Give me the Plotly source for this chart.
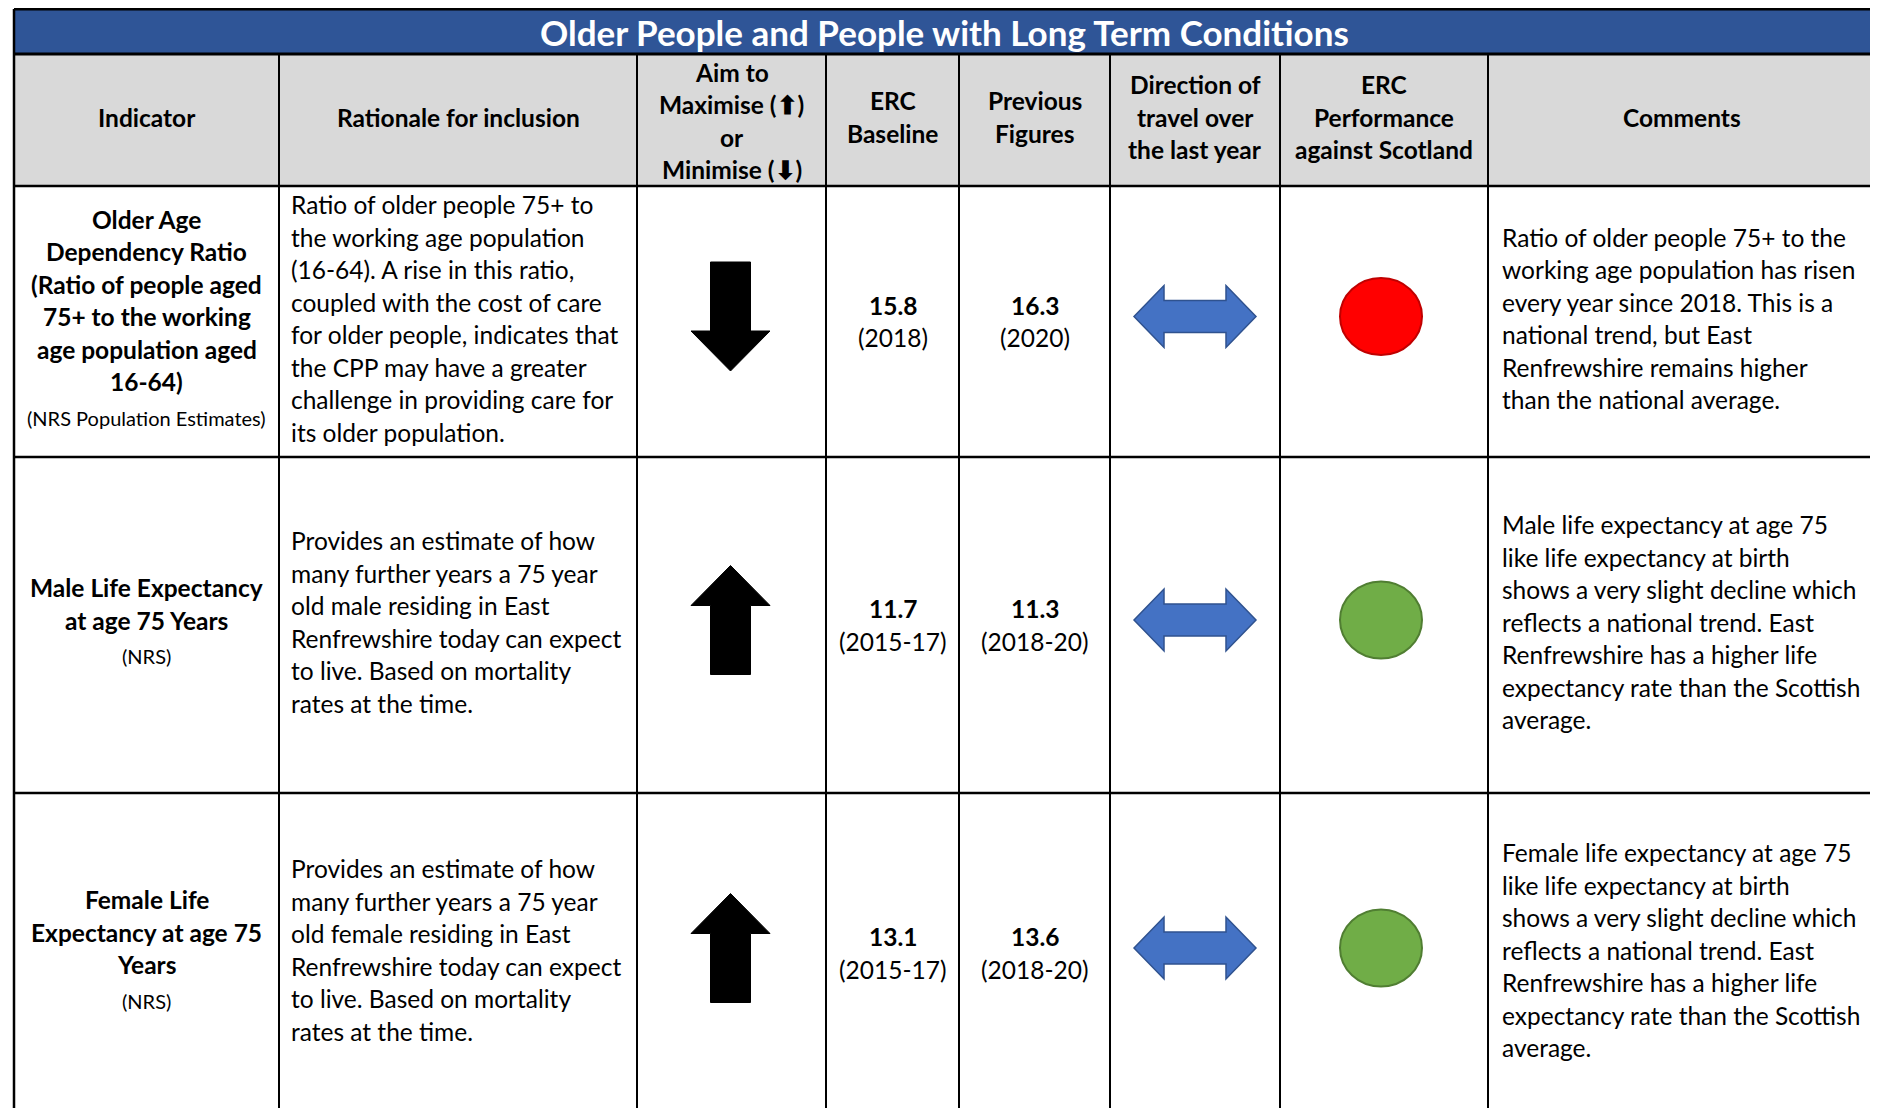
import plotly.graph_objects as go

# ---------------- data ----------------
title = "Older People and People with Long Term Conditions"
headers = [
    ["Indicator"],
    ["Rationale for inclusion"],
    ["Aim to", "Maximise (⬆)", "or", "Minimise (⬇)"],
    ["ERC", "Baseline"],
    ["Previous", "Figures"],
    ["Direction of", "travel over", "the last year"],
    ["ERC", "Performance", "against Scotland"],
    ["Comments"],
]
indicators = [
    ["Older Age", "Dependency Ratio", "(Ratio of people aged", "75+ to the working", "age population aged", "16-64)"],
    ["Male Life Expectancy", "at age 75 Years"],
    ["Female Life", "Expectancy at age 75", "Years"],
]
sources = ["(NRS Population Estimates)", "(NRS)", "(NRS)"]
rationale = [
    ["Ratio of older people 75+ to", "the working age population", "(16-64). A rise in this ratio,",
     "coupled with the cost of care", "for older people, indicates that", "the CPP may have a greater",
     "challenge in providing care for", "its older population."],
    ["Provides an estimate of how", "many further years a 75 year", "old male residing in East",
     "Renfrewshire today can expect", "to live. Based on mortality", "rates at the time."],
    ["Provides an estimate of how", "many further years a 75 year", "old female residing in East",
     "Renfrewshire today can expect", "to live. Based on mortality", "rates at the time."],
]
aim = ["down", "up", "up"]
baseline_value = ["15.8", "11.7", "13.1"]
baseline_period = ["(2018)", "(2015-17)", "(2015-17)"]
previous_value = ["16.3", "11.3", "13.6"]
previous_period = ["(2020)", "(2018-20)", "(2018-20)"]
travel = ["same", "same", "same"]
performance = ["red", "green", "green"]
comments = [
    ["Ratio of older people 75+ to the", "working age population has risen", "every year since 2018. This is a",
     "national trend, but East", "Renfrewshire remains higher", "than the national average."],
    ["Male life expectancy at age 75", "like life expectancy at birth", "shows a very slight decline which",
     "reflects a national trend. East", "Renfrewshire has a higher life", "expectancy rate than the Scottish",
     "average."],
    ["Female life expectancy at age 75", "like life expectancy at birth", "shows a very slight decline which",
     "reflects a national trend. East", "Renfrewshire has a higher life", "expectancy rate than the Scottish",
     "average."],
]

# ---------------- layout constants ----------------
W, H = 1878, 1108
OFF = 8  # page body margin
FONT = "Lato"
col_x = [14, 279, 637, 826, 959, 1110, 1280, 1488, 1875]
title_top, title_bot = 9, 54
row_y = [186, 457, 793, 1113]
LH = 32.5
BODY = 24.5
SMALL = 20
TITLE = 35
perf_fill = {"red": "#FF0000", "green": "#70AD47"}
perf_line = {"red": "#C00000", "green": "#507E32"}

shapes = []
annotations = []


def text(x, y, s, size=BODY, bold=False, anchor="center", color="black"):
    annotations.append(dict(
        x=x, y=y, xref="x", yref="y", text=("<b>%s</b>" % s) if bold else s,
        showarrow=False, xanchor=anchor, yanchor="middle",
        font=dict(family=FONT, size=size, color=color)))


def block(x, cy, lines, bold=False, anchor="center", size=BODY):
    n = len(lines)
    y0 = cy - (n - 1) * LH / 2
    for i, s in enumerate(lines):
        text(x, y0 + i * LH, s, size=size, bold=bold, anchor=anchor)


# backgrounds
shapes.append(dict(type="rect", x0=col_x[0], x1=col_x[-1], y0=title_top, y1=title_bot,
                   fillcolor="#2F5597", line=dict(width=0), layer="below"))
shapes.append(dict(type="rect", x0=col_x[0], x1=col_x[-1], y0=title_bot, y1=row_y[0],
                   fillcolor="#D9D9D9", line=dict(width=0), layer="below"))

# title
text((col_x[0] + col_x[-1]) / 2, 32, title, size=TITLE, bold=True, color="white")

# headers
for j, h in enumerate(headers):
    cx = (col_x[j] + col_x[j + 1]) / 2
    cy = (title_bot + row_y[0]) / 2 - 3
    if len(h) == 4:
        cy += 4
    block(cx, cy, h, bold=True)

# rows
for i in range(3):
    top = row_y[i]
    bot = row_y[i + 1]
    mid = (top + bot) / 2 - 3
    smid = (top + bot) / 2 - 5
    # indicator (bold lines + small source)
    lines = indicators[i]
    n = len(lines)
    total = (n - 1) * LH + 36
    y0 = mid - total / 2
    cx0 = (col_x[0] + col_x[1]) / 2
    for k, s in enumerate(lines):
        text(cx0, y0 + k * LH, s, bold=True)
    text(cx0, y0 + (n - 1) * LH + 36, sources[i], size=SMALL)
    # rationale
    block(col_x[1] + 10, mid, rationale[i], anchor="left")
    # aim arrow
    ax = (col_x[2] + col_x[3]) / 2 - 1
    hw, sw, hl, L = 39.5, 20, 40, 109
    t = smid - L / 2
    b = smid + L / 2
    if aim[i] == "up":
        pts = [(ax, t), (ax + hw, t + hl), (ax + sw, t + hl), (ax + sw, b), (ax - sw, b),
               (ax - sw, t + hl), (ax - hw, t + hl)]
    else:
        pts = [(ax, b), (ax + hw, b - hl), (ax + sw, b - hl), (ax + sw, t), (ax - sw, t),
               (ax - sw, b - hl), (ax - hw, b - hl)]
    path = "M " + " L ".join("%.1f,%.1f" % p for p in pts) + " Z"
    shapes.append(dict(type="path", path=path, fillcolor="black", line=dict(color="black", width=1)))
    # baseline & previous
    vmid = mid + 3
    bx = (col_x[3] + col_x[4]) / 2
    text(bx, vmid - LH / 2, baseline_value[i], bold=True)
    text(bx, vmid + LH / 2, baseline_period[i])
    px = (col_x[4] + col_x[5]) / 2
    text(px, vmid - LH / 2, previous_value[i], bold=True)
    text(px, vmid + LH / 2, previous_period[i])
    # direction of travel
    dx = (col_x[5] + col_x[6]) / 2
    if travel[i] == "same":
        pts = [(dx - 61, smid), (dx - 31, smid - 31), (dx - 31, smid - 16), (dx + 31, smid - 16),
               (dx + 31, smid - 31), (dx + 61, smid), (dx + 31, smid + 31), (dx + 31, smid + 16),
               (dx - 31, smid + 16), (dx - 31, smid + 31)]
        path = "M " + " L ".join("%.1f,%.1f" % p for p in pts) + " Z"
        shapes.append(dict(type="path", path=path, fillcolor="#4472C4",
                           line=dict(color="#2F528F", width=1.5)))
    # performance circle
    ccx = (col_x[6] + col_x[7]) / 2 - 3
    shapes.append(dict(type="circle", x0=ccx - 41, x1=ccx + 41, y0=smid - 38.5, y1=smid + 38.5,
                       fillcolor=perf_fill[performance[i]],
                       line=dict(color=perf_line[performance[i]], width=2)))
    # comments
    block(col_x[7] + 12, mid, comments[i], anchor="left")

# grid lines
def hline(y, x0, x1, w):
    shapes.append(dict(type="line", x0=x0, x1=x1, y0=y, y1=y, line=dict(color="black", width=w)))


def vline(x, y0, y1, w):
    shapes.append(dict(type="line", x0=x, x1=x, y0=y0, y1=y1, line=dict(color="black", width=w)))


hline(title_top, col_x[0], col_x[-1], 3)
hline(title_bot, col_x[0], col_x[-1], 3)
for y in row_y[:-1]:
    hline(y, col_x[0], col_x[-1], 2.5)
vline(col_x[0], title_top, H + 20, 2.5)
vline(col_x[-1], title_top, H + 20, 2.5)
for x in col_x[1:-1]:
    vline(x, title_bot, H + 20, 2)

fig = go.Figure()
fig.update_layout(
    width=W - OFF, height=H - OFF, margin=dict(l=0, r=0, t=0, b=0),
    paper_bgcolor="white", plot_bgcolor="white",
    xaxis=dict(range=[OFF, W], visible=False, fixedrange=True),
    yaxis=dict(range=[H, OFF], visible=False, fixedrange=True),
    shapes=shapes, annotations=annotations, showlegend=False,
)
fig.write_html("out.html")
